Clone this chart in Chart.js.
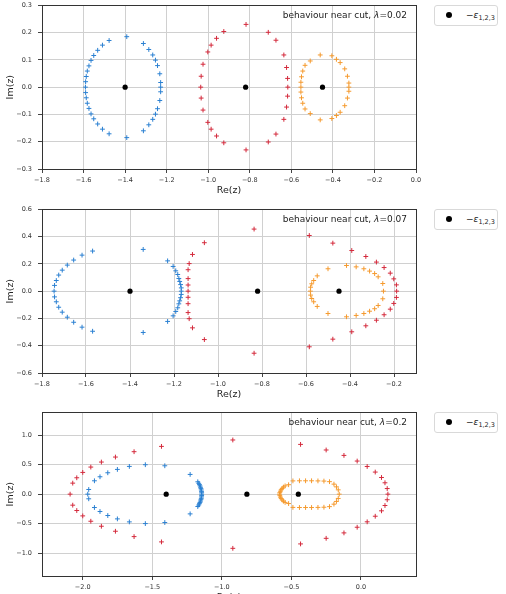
<!DOCTYPE html>
<html>
<head>
<meta charset="utf-8">
<script src="https://cdn.jsdelivr.net/npm/chart.js@4.4.1/dist/chart.umd.min.js"></script>
<style>
body{margin:0;width:506px;height:594px;overflow:hidden;background:#fff;position:relative;font-family:"DejaVu Sans";}
canvas{position:absolute;left:0;}
.leg{position:absolute;left:434px;width:64px;height:21px;border:1px solid #d9d9d9;border-radius:3px;background:#fff;box-sizing:border-box;}
.leg .dot{position:absolute;left:11px;top:6px;width:6px;height:6px;border-radius:50%;background:#000;}
.leg .lab{position:absolute;left:31px;top:3px;font-size:9px;color:#222;white-space:nowrap;line-height:12px;}
.leg i{font-style:italic}
.leg sub{font-size:6.5px;vertical-align:-2px;line-height:0}
</style>
</head>
<body>
<canvas id="c1" width="506" height="196" style="top:0px"></canvas>
<canvas id="c2" width="506" height="196" style="top:204px"></canvas>
<canvas id="c3" width="506" height="196" style="top:407px"></canvas>
<div class="leg" style="top:5px"><span class="dot"></span><span class="lab">−<i>ε</i><sub>1,2,3</sub></span></div>
<div class="leg" style="top:209px"><span class="dot"></span><span class="lab">−<i>ε</i><sub>1,2,3</sub></span></div>
<div class="leg" style="top:412px"><span class="dot"></span><span class="lab">−<i>ε</i><sub>1,2,3</sub></span></div>
<script>
// points as [Re, Im]
const blue1 = [
  [-1.392,0.185],[-1.477,0.171],[-1.509,0.154],[-1.532,0.135],[-1.551,0.116],[-1.564,0.098],[-1.574,0.078],[-1.582,0.059],[-1.587,0.039],[-1.590,0.020],[-1.591,0.000],
  [-1.590,-0.020],[-1.587,-0.039],[-1.582,-0.059],[-1.574,-0.078],[-1.564,-0.098],[-1.551,-0.116],[-1.532,-0.135],[-1.509,-0.154],[-1.477,-0.171],[-1.392,-0.185],
  [-1.312,0.160],[-1.286,0.138],[-1.267,0.118],[-1.254,0.099],[-1.244,0.079],[-1.233,0.049],[-1.229,0.017],[-1.229,0.000],
  [-1.229,-0.017],[-1.233,-0.049],[-1.244,-0.079],[-1.254,-0.099],[-1.267,-0.118],[-1.286,-0.138],[-1.312,-0.160]
];
const red1 = [
  [-0.818,0.230],[-0.925,0.204],[-0.960,0.179],[-0.986,0.154],[-1.002,0.129],[-1.025,0.084],[-1.034,0.040],[-1.036,0.000],
  [-1.034,-0.040],[-1.025,-0.084],[-1.002,-0.129],[-0.986,-0.154],[-0.960,-0.179],[-0.925,-0.204],[-0.818,-0.230],
  [-0.711,0.201],[-0.674,0.172],[-0.636,0.118],[-0.623,0.072],[-0.618,0.032],[-0.617,0.000],
  [-0.618,-0.033],[-0.623,-0.073],[-0.636,-0.118],[-0.674,-0.172],[-0.711,-0.201]
];
const orange1 = [
  [-0.461,0.118],[-0.405,0.115],[-0.383,0.102],[-0.365,0.090],[-0.343,0.067],[-0.330,0.040],[-0.323,0.015],[-0.323,0.000],
  [-0.323,-0.015],[-0.330,-0.040],[-0.343,-0.068],[-0.365,-0.092],[-0.383,-0.104],[-0.405,-0.115],[-0.461,-0.120],
  [-0.509,0.096],[-0.534,0.080],[-0.545,0.059],[-0.551,0.038],[-0.554,0.018],[-0.554,0.000],
  [-0.554,-0.018],[-0.551,-0.039],[-0.545,-0.059],[-0.534,-0.080],[-0.509,-0.097]
];
const blue2 = [
  [-1.570,0.294],[-1.618,0.264],[-1.656,0.228],[-1.685,0.191],[-1.708,0.154],[-1.724,0.118],[-1.735,0.078],[-1.743,0.042],[-1.745,0.000],
  [-1.743,-0.042],[-1.735,-0.078],[-1.724,-0.118],[-1.708,-0.154],[-1.685,-0.191],[-1.656,-0.228],[-1.618,-0.264],[-1.570,-0.294],
  [-1.340,0.306],[-1.340,-0.303],
  [-1.229,0.222],[-1.204,0.181],[-1.192,0.149],[-1.183,0.122],[-1.178,0.093],[-1.174,0.071],[-1.170,0.048],[-1.167,0.024],[-1.167,0.000],
  [-1.167,-0.024],[-1.170,-0.048],[-1.174,-0.071],[-1.178,-0.093],[-1.183,-0.122],[-1.192,-0.149],[-1.204,-0.181],[-1.229,-0.222]
];
const red2 = [
  [-0.836,0.455],[-1.062,0.355],[-1.116,0.269],[-1.131,0.202],[-1.136,0.157],[-1.136,0.092],[-1.136,0.045],[-1.136,0.000],
  [-1.136,-0.045],[-1.136,-0.092],[-1.136,-0.157],[-1.131,-0.202],[-1.116,-0.269],[-1.062,-0.355],[-0.836,-0.455],
  [-0.585,0.408],[-0.478,0.352],[-0.392,0.298],[-0.328,0.254],[-0.280,0.213],[-0.245,0.173],[-0.217,0.132],[-0.201,0.090],[-0.189,0.046],[-0.188,0.000],
  [-0.189,-0.046],[-0.201,-0.090],[-0.217,-0.132],[-0.245,-0.173],[-0.280,-0.213],[-0.328,-0.254],[-0.392,-0.298],[-0.478,-0.352],[-0.585,-0.408]
];
const orange2 = [
  [-0.500,0.164],[-0.416,0.188],[-0.372,0.178],[-0.337,0.164],[-0.311,0.147],[-0.288,0.129],[-0.272,0.105],[-0.251,0.056],[-0.248,0.000],
  [-0.251,-0.056],[-0.272,-0.105],[-0.288,-0.129],[-0.311,-0.147],[-0.337,-0.164],[-0.372,-0.178],[-0.416,-0.188],[-0.500,-0.164],
  [-0.549,0.112],[-0.565,0.078],[-0.574,0.054],[-0.579,0.029],[-0.580,0.000],
  [-0.579,-0.029],[-0.574,-0.054],[-0.565,-0.078],[-0.549,-0.112]
];
const blue3 = [
  [-1.410,0.482],[-1.550,0.500],[-1.665,0.471],[-1.751,0.420],[-1.820,0.363],[-1.876,0.295],[-1.916,0.227],[-1.957,0.079],[-1.964,0.000],
  [-1.957,-0.079],[-1.916,-0.227],[-1.876,-0.295],[-1.820,-0.363],[-1.751,-0.420],[-1.665,-0.471],[-1.550,-0.500],[-1.410,-0.482],
  [-1.228,0.335],[-1.173,0.210],[-1.166,0.185],[-1.161,0.162],[-1.157,0.140],[-1.153,0.117],[-1.150,0.094],[-1.148,0.071],[-1.146,0.047],[-1.145,0.024],[-1.145,0.000],
  [-1.145,-0.024],[-1.146,-0.047],[-1.148,-0.071],[-1.150,-0.094],[-1.153,-0.117],[-1.157,-0.140],[-1.161,-0.162],[-1.166,-0.185],[-1.173,-0.210],[-1.228,-0.335]
];
const red3 = [
  [-0.921,0.920],[-1.434,0.811],[-1.631,0.721],[-1.765,0.630],[-1.866,0.545],[-1.942,0.460],[-2.000,0.369],[-2.043,0.278],[-2.072,0.187],[-2.091,0.000],
  [-2.072,-0.187],[-2.043,-0.278],[-2.000,-0.369],[-1.942,-0.460],[-1.866,-0.545],[-1.765,-0.630],[-1.631,-0.721],[-1.434,-0.811],[-0.921,-0.920],
  [-0.434,0.845],[-0.250,0.750],[-0.122,0.658],[-0.027,0.562],[0.045,0.470],[0.103,0.375],[0.148,0.283],[0.173,0.193],[0.189,0.095],[0.194,0.000],
  [0.189,-0.095],[0.173,-0.193],[0.148,-0.283],[0.103,-0.375],[0.045,-0.470],[-0.027,-0.562],[-0.122,-0.658],[-0.250,-0.750],[-0.434,-0.845]
];
const orange3 = [
  [-0.520,0.160],[-0.489,0.225],[-0.442,0.227],[-0.398,0.227],[-0.355,0.227],[-0.309,0.225],[-0.266,0.222],[-0.226,0.212],[-0.194,0.170],[-0.176,0.124],[-0.163,0.073],[-0.156,0.000],
  [-0.163,-0.073],[-0.176,-0.124],[-0.194,-0.170],[-0.226,-0.212],[-0.266,-0.222],[-0.309,-0.225],[-0.355,-0.227],[-0.398,-0.227],[-0.442,-0.227],[-0.489,-0.225],[-0.520,-0.160],
  [-0.545,0.140],[-0.557,0.120],[-0.566,0.098],[-0.573,0.075],[-0.579,0.050],[-0.583,0.025],[-0.585,0.000],
  [-0.583,-0.025],[-0.579,-0.050],[-0.573,-0.075],[-0.566,-0.098],[-0.557,-0.120],[-0.545,-0.140]
];
const epsRe = [-1.4, -0.82, -0.45];
const epsIm = [0, 0, 0];

const lambdas = ['0.02', '0.07', '0.2'];
const xTicks1 = [-1.8, -1.6, -1.4, -1.2, -1.0, -0.8, -0.6, -0.4, -0.2, 0.0];
const yTicks1 = [-0.3, -0.2, -0.1, 0.0, 0.1, 0.2, 0.3];
const xTicks2 = [-1.8, -1.6, -1.4, -1.2, -1.0, -0.8, -0.6, -0.4, -0.2];
const yTicks2 = [-0.6, -0.4, -0.2, 0.0, 0.2, 0.4, 0.6];
const xTicks3 = [-2.0, -1.5, -1.0, -0.5, 0.0];
const yTicks3 = [-1.0, -0.5, 0.0, 0.5, 1.0];
const xRange1 = [-1.8, 0.0], yRange1 = [-0.3, 0.3];
const xRange2 = [-1.8, -0.1], yRange2 = [-0.6, 0.6];
const xRange3 = [-2.293, 0.396], yRange3 = [-1.39, 1.39];

const BLUE = '#2b80d2', RED = '#d42a3c', ORANGE = '#f59a2e';

function fmt(v) {
  if (Math.abs(v) < 1e-9) return '0.0';
  return (v < 0 ? '\u2212' : '') + Math.abs(v).toFixed(1);
}
const pts = arr => arr.map(p => ({x: p[0], y: p[1]}));

// box around the plot + the "behaviour near cut" note
const frame = {
  id: 'frame',
  afterDraw(chart, args, opts) {
    const {ctx, chartArea: a} = chart;
    ctx.save();
    ctx.strokeStyle = '#333';
    ctx.lineWidth = 1;
    ctx.strokeRect(Math.round(a.left) + 0.5, Math.round(a.top) + 0.5, Math.round(a.right - a.left), Math.round(a.bottom - a.top));
    const fN = '9px "DejaVu Sans"', fI = 'italic 9px "DejaVu Sans"';
    const p1 = 'behaviour near cut, ', p2 = '\u03bb', p3 = '=' + opts.lam;
    ctx.font = fN;
    const w1 = ctx.measureText(p1).width, w3 = ctx.measureText(p3).width;
    ctx.font = fI;
    const w2 = ctx.measureText(p2).width;
    let x = a.right - 9 - (w1 + w2 + w3);
    const y = a.top + 10.5;
    ctx.fillStyle = '#222';
    ctx.textBaseline = 'middle';
    ctx.textAlign = 'left';
    ctx.font = fN; ctx.fillText(p1, x, y); x += w1;
    ctx.font = fI; ctx.fillText(p2, x, y); x += w2;
    ctx.font = fN; ctx.fillText(p3, x, y);
    ctx.restore();
  }
};

function panel(id, blue, red, orange, xr, yr, xt, yt, lam) {
  const ticksFont = {family: 'DejaVu Sans', size: 6.5};
  new Chart(document.getElementById(id), {
    type: 'scatter',
    data: {
      datasets: [
        {data: pts(blue), pointStyle: 'cross', pointRadius: 2.4, borderColor: BLUE, borderWidth: 1},
        {data: pts(red), pointStyle: 'cross', pointRadius: 2.4, borderColor: RED, borderWidth: 1},
        {data: pts(orange), pointStyle: 'cross', pointRadius: 2.4, borderColor: ORANGE, borderWidth: 1},
        {data: epsRe.map((r, i) => ({x: r, y: epsIm[i]})), pointStyle: 'circle', pointRadius: 2.6,
         backgroundColor: '#000', borderColor: '#000', borderWidth: 0}
      ]
    },
    options: {
      responsive: false,
      animation: false,
      devicePixelRatio: 1,
      layout: {padding: {left: 0, right: 90, top: 5.3, bottom: 0}},
      plugins: {legend: {display: false}, tooltip: {enabled: false}, frame: {lam: lam}},
      scales: {
        x: {
          min: xr[0], max: xr[1],
          afterBuildTicks: s => { s.ticks = xt.map(v => ({value: v})); },
          afterFit: s => { s.height = 27; s.paddingLeft = 0; s.paddingRight = 0; },
          ticks: {callback: fmt, font: ticksFont, color: '#333', padding: 3, maxRotation: 0, autoSkip: false},
          grid: {color: '#d0d0d0', lineWidth: 1, tickLength: 4, tickColor: '#444'},
          border: {display: false},
          title: {display: true, text: 'Re(z)', font: {family: 'DejaVu Sans', size: 9.5}, color: '#222', padding: {top: 0, bottom: 0}}
        },
        y: {
          min: yr[0], max: yr[1],
          afterBuildTicks: s => { s.ticks = yt.map(v => ({value: v})); },
          afterFit: s => { s.width = 42; s.paddingTop = 0; s.paddingBottom = 0; },
          ticks: {callback: fmt, font: ticksFont, color: '#333', padding: 6, autoSkip: false},
          grid: {color: '#d0d0d0', lineWidth: 1, tickLength: 4, tickColor: '#444'},
          border: {display: false},
          title: {display: true, text: 'Im(z)', font: {family: 'DejaVu Sans', size: 9.5}, color: '#222', padding: {top: 5.3, bottom: 0}}
        }
      }
    },
    plugins: [frame]
  });
}

panel('c1', blue1, red1, orange1, xRange1, yRange1, xTicks1, yTicks1, lambdas[0]);
panel('c2', blue2, red2, orange2, xRange2, yRange2, xTicks2, yTicks2, lambdas[1]);
panel('c3', blue3, red3, orange3, xRange3, yRange3, xTicks3, yTicks3, lambdas[2]);
</script>
</body>
</html>
